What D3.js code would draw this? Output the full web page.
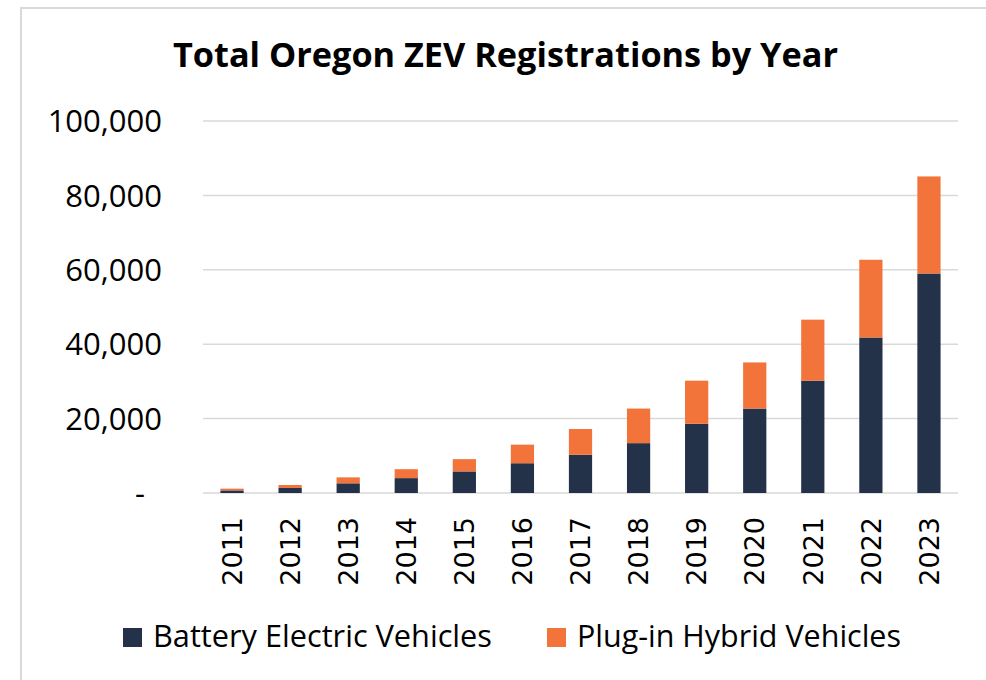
<!DOCTYPE html>
<html lang="en">
<head>
<meta charset="UTF-8">
<title>Total Oregon ZEV Registrations by Year</title>
<script src="https://d3js.org/d3.v7.min.js"></script>
<style>
  body { margin: 0; background: #fff; }
  text { font-family: "Open Sans", "Noto Sans", sans-serif; fill: #000; }
  .xlab { font-family: "DejaVu Sans", sans-serif; }
</style>
</head>
<body>
<div id="chart"></div>
<script>
// data
var years = ["2011","2012","2013","2014","2015","2016","2017","2018","2019","2020","2021","2022","2023"];
var bev  = [700, 1350, 2600, 4000, 5800, 8000, 10300, 13400, 18600, 22700, 30200, 41800, 59000];
var phev = [470, 800, 1600, 2400, 3300, 5000, 6900, 9300, 11600, 12400, 16400, 20900, 26100];
var seriesNames = ["Battery Electric Vehicles", "Plug-in Hybrid Vehicles"];
var colors = ["#233248", "#f2743b"];
var yTicks = [0, 20000, 40000, 60000, 80000, 100000];

var width = 986, height = 680;
var margin = {top: 121, right: 28, bottom: 187, left: 203};

var svg = d3.select("#chart").append("svg")
    .attr("width", width)
    .attr("height", height);

// chart frame
svg.append("rect")
    .attr("x", 21).attr("y", 8)
    .attr("width", 1000).attr("height", 700)
    .attr("fill", "none")
    .attr("stroke", "#d9d9d9")
    .attr("stroke-width", 2);

var x = d3.scaleBand()
    .domain(years)
    .range([margin.left, width - margin.right])
    .paddingInner(0.6)
    .paddingOuter(0.3);

var y = d3.scaleLinear()
    .domain([0, 100000])
    .range([height - margin.bottom, margin.top]);

// gridlines
svg.append("g")
  .selectAll("line")
  .data(yTicks)
  .enter().append("line")
    .attr("x1", margin.left)
    .attr("x2", width - margin.right)
    .attr("y1", function(d) { return y(d); })
    .attr("y2", function(d) { return y(d); })
    .attr("stroke", "#d9d9d9")
    .attr("stroke-width", 1.5);

// y labels
svg.append("g")
  .selectAll("text")
  .data(yTicks)
  .enter().append("text")
    .attr("x", margin.left - 41)
    .attr("dx", function(d) { return d === 0 ? -17 : 0; })
    .attr("y", function(d) { return y(d); })
    .attr("dy", "0.36em")
    .attr("text-anchor", "end")
    .style("font-size", "31px")
    .text(function(d) { return d === 0 ? "-" : d3.format(",")(d); });

// stacked bars
var table = years.map(function(yr, i) { return {year: yr, bev: bev[i], phev: phev[i]}; });
var stacked = d3.stack().keys(["bev", "phev"])(table);

svg.append("g")
  .selectAll("g")
  .data(stacked)
  .enter().append("g")
    .attr("fill", function(d, i) { return colors[i]; })
  .selectAll("rect")
  .data(function(d) { return d; })
  .enter().append("rect")
    .attr("x", function(d) { return x(d.data.year); })
    .attr("width", x.bandwidth())
    .attr("y", function(d) { return y(d[1]); })
    .attr("height", function(d) { return y(d[0]) - y(d[1]); });

// x labels, rotated
svg.append("g")
  .selectAll("text")
  .data(years)
  .enter().append("text")
    .attr("class", "xlab")
    .attr("transform", function(d) {
      return "translate(" + (x(d) + x.bandwidth() / 2) + "," + 517 + ") rotate(-90)";
    })
    .attr("dy", "0.36em")
    .attr("text-anchor", "end")
    .style("font-size", "27px")
    .text(function(d) { return d; });

// title
svg.append("text")
    .attr("x", 173)
    .attr("y", 67)
    .attr("textLength", 665)
    .attr("lengthAdjust", "spacingAndGlyphs")
    .style("font-size", "34px")
    .style("font-weight", "700")
    .text("Total Oregon ZEV Registrations by Year");

// legend
var legendX = [123, 547];
var legendLen = [339, 324];
var legend = svg.append("g")
  .selectAll("g")
  .data(seriesNames)
  .enter().append("g")
    .attr("transform", function(d, i) { return "translate(" + legendX[i] + ",628)"; });

legend.append("rect")
    .attr("width", 19)
    .attr("height", 19)
    .attr("fill", function(d, i) { return colors[i]; });

legend.append("text")
    .attr("x", 30)
    .attr("y", 19)
    .attr("textLength", function(d, i) { return legendLen[i]; })
    .attr("lengthAdjust", "spacingAndGlyphs")
    .style("font-size", "31px")
    .text(function(d) { return d; });
</script>
</body>
</html>
